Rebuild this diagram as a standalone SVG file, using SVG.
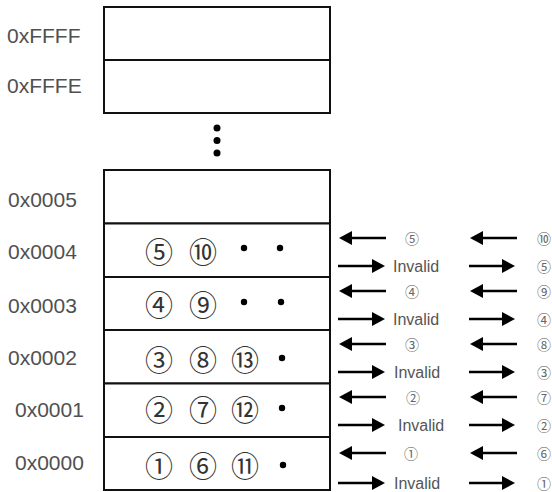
<svg xmlns="http://www.w3.org/2000/svg" width="552" height="492" viewBox="0 0 552 492">
<defs>
<style>
.addr{font-family:"Liberation Sans","Noto Sans",sans-serif;font-size:21px;fill:#505050}
.cell{fill:#fff;stroke:#111;stroke-width:2}
.cn{font-family:"Noto Sans CJK KR","Noto Sans CJK SC",sans-serif;font-size:28px;fill:#333;text-anchor:middle;dominant-baseline:central}
.sn{font-family:"Noto Sans CJK KR","Noto Sans CJK SC",sans-serif;font-size:14px;fill:#666;text-anchor:middle;dominant-baseline:central}
.inv{font-family:"Liberation Sans","Noto Sans",sans-serif;font-size:16px;fill:#555}
.dot{fill:#000}
.arr{stroke:#000;stroke-width:2.5;fill:none;marker-end:url(#ah)}
</style>
<marker id="ah" markerUnits="userSpaceOnUse" markerWidth="13" markerHeight="14" viewBox="0 0 13 14" refX="7" refY="7" orient="auto">
<path d="M0,0 L13,7 L0,14 z" fill="#000"/>
</marker>
</defs>
<rect width="552" height="492" fill="#fff"/>
<g id="mem-ffff"><rect class="cell" x="104" y="7" width="226" height="53"/><text class="addr" x="7" y="43">0xFFFF</text></g>
<g id="mem-fffe"><rect class="cell" x="104" y="60" width="226" height="53"/><text class="addr" x="7" y="93">0xFFFE</text></g>
<g id="ellipsis"><circle class="dot" cx="217" cy="128" r="3.5"/><circle class="dot" cx="217" cy="140.5" r="3.5"/><circle class="dot" cx="217" cy="153" r="3.5"/></g>
<g id="mem-0005"><rect class="cell" x="104" y="170" width="226" height="53.5"/><text class="addr" x="8" y="207">0x0005</text></g>
<g id="mem-0004"><rect class="cell" x="104" y="223.5" width="226" height="53.5"/><text class="addr" x="8" y="259">0x0004</text>
<text class="cn" x="159" y="251">⑤</text><text class="cn" x="203" y="251">⑩</text><circle class="dot" cx="244" cy="248" r="3.2"/><circle class="dot" cx="280" cy="248" r="3.2"/></g>
<g id="mem-0003"><rect class="cell" x="104" y="277" width="226" height="53"/><text class="addr" x="8" y="313">0x0003</text>
<text class="cn" x="159" y="304">④</text><text class="cn" x="203" y="304">⑨</text><circle class="dot" cx="244" cy="302" r="3.2"/><circle class="dot" cx="281" cy="302" r="3.2"/></g>
<g id="mem-0002"><rect class="cell" x="104" y="330" width="226" height="53.5"/><text class="addr" x="8" y="365">0x0002</text>
<text class="cn" x="159" y="359">③</text><text class="cn" x="203" y="359">⑧</text><text class="cn" x="245" y="359">⑬</text><circle class="dot" cx="282" cy="358" r="3.2"/></g>
<g id="mem-0001"><rect class="cell" x="104" y="383.5" width="226" height="53.5"/><text class="addr" x="15" y="417">0x0001</text>
<text class="cn" x="159" y="409">②</text><text class="cn" x="203" y="409">⑦</text><text class="cn" x="245" y="409">⑫</text><circle class="dot" cx="282" cy="408" r="3.2"/></g>
<g id="mem-0000"><rect class="cell" x="104" y="437" width="226" height="53"/><text class="addr" x="15" y="470">0x0000</text>
<text class="cn" x="159" y="465">①</text><text class="cn" x="203" y="465">⑥</text><text class="cn" x="245" y="465">⑪</text><circle class="dot" cx="283" cy="465" r="3.2"/></g>
<g id="connectors">
<path class="arr" d="M386,238 H345"/><path class="arr" d="M338,266 H379"/>
<path class="arr" d="M386,291 H345"/><path class="arr" d="M338,319 H379"/>
<path class="arr" d="M386,344 H345"/><path class="arr" d="M338,372 H379"/>
<path class="arr" d="M386,397 H345"/><path class="arr" d="M338,425 H379"/>
<path class="arr" d="M386,453 H345"/><path class="arr" d="M338,483 H379"/>
<path class="arr" d="M517,238 H476"/><path class="arr" d="M469,266 H509"/>
<path class="arr" d="M517,291 H476"/><path class="arr" d="M469,319 H509"/>
<path class="arr" d="M517,344 H476"/><path class="arr" d="M469,372 H509"/>
<path class="arr" d="M517,397 H476"/><path class="arr" d="M469,425 H509"/>
<path class="arr" d="M517,453 H476"/><path class="arr" d="M469,483 H509"/>
</g>
<g id="labels">
<text class="sn" x="412" y="238">⑤</text><text class="inv" x="393" y="272">Invalid</text>
<text class="sn" x="412" y="291">④</text><text class="inv" x="393" y="325">Invalid</text>
<text class="sn" x="412" y="344">③</text><text class="inv" x="394" y="378">Invalid</text>
<text class="sn" x="413" y="397">②</text><text class="inv" x="398" y="431">Invalid</text>
<text class="sn" x="411" y="453">①</text><text class="inv" x="394" y="489">Invalid</text>
<text class="sn" x="544" y="238">⑩</text><text class="sn" x="544" y="266">⑤</text>
<text class="sn" x="544" y="291">⑨</text><text class="sn" x="544" y="319">④</text>
<text class="sn" x="544" y="344">⑧</text><text class="sn" x="544" y="372">③</text>
<text class="sn" x="544" y="397">⑦</text><text class="sn" x="544" y="425">②</text>
<text class="sn" x="544" y="453">⑥</text><text class="sn" x="544" y="483">①</text>
</g>
</svg>
